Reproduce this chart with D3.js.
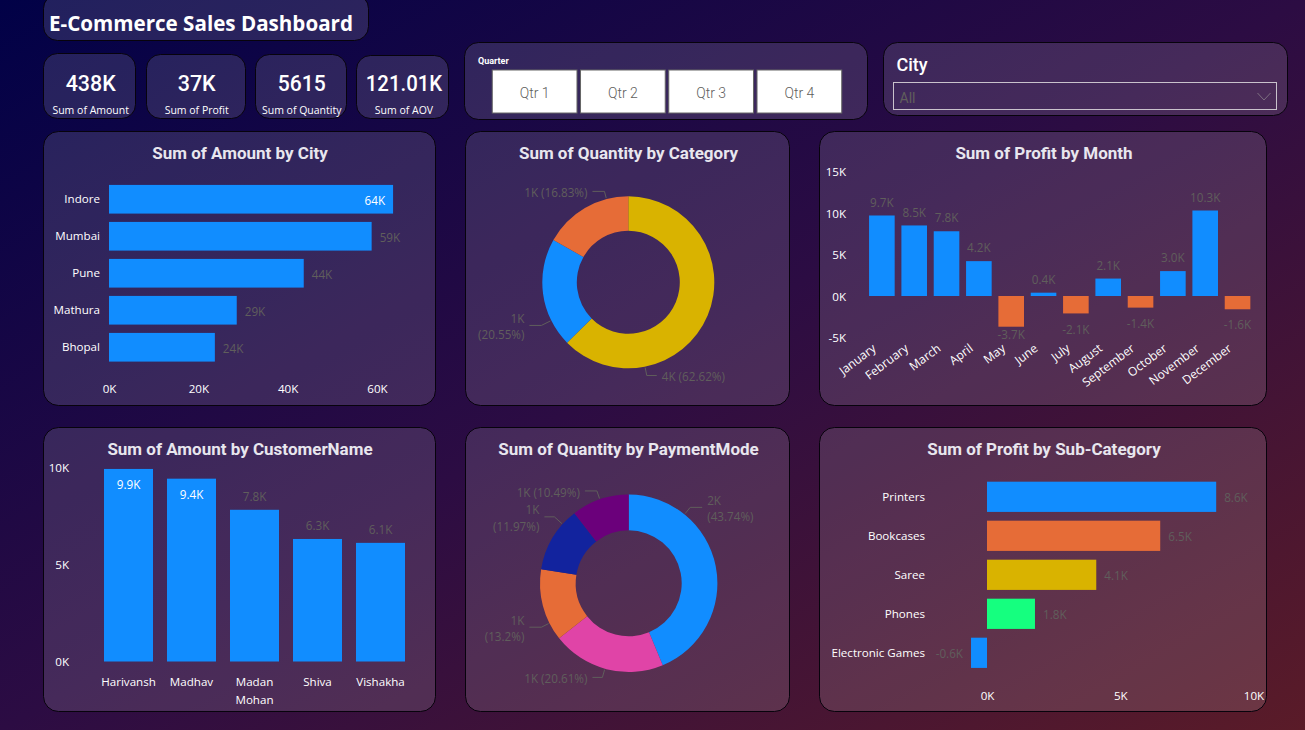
<!DOCTYPE html>
<html>
<head>
<meta charset="utf-8">
<title>E-Commerce Sales Dashboard</title>
<script src="https://cdn.jsdelivr.net/npm/d3@7"></script>
<style>
html, body { margin: 0; padding: 0; background: #1a0a40; overflow: hidden; }
svg { display: block; font-family: "Open Sans", sans-serif; }
.axis text { fill: #fff; font-size: 11.6px; font-family: "Open Sans", sans-serif; }
.axis path, .axis line { display: none; }
.title { fill: #e8e6ee; font-family: Roboto, sans-serif; font-weight: 700; font-size: 17px; text-anchor: middle; }
.label { fill: #605e5c; font-size: 11.7px; }
.din { font-family: Roboto, sans-serif; }
</style>
</head>
<body>
<div id="chart-area"></div>
<script>
// KPI cards
var kpiValues = ["438K", "37K", "5615", "121.01K"];
var kpiLabels = ["Sum of Amount", "Sum of Profit", "Sum of Quantity", "Sum of AOV"];
var quarters = ["Qtr 1", "Qtr 2", "Qtr 3", "Qtr 4"];

// values in thousands
var cities = ["Indore", "Mumbai", "Pune", "Mathura", "Bhopal"];
var cityAmount = [63.6, 58.8, 43.6, 28.6, 23.7];
var cityTicks = [0, 20, 40, 60];

var categoryShare = [62.62, 20.55, 16.83];
var categoryQty = ["4K", "1K", "1K"];

var months = ["January", "February", "March", "April", "May", "June", "July", "August", "September", "October", "November", "December"];
var monthProfit = [9.7, 8.5, 7.8, 4.2, -3.7, 0.4, -2.1, 2.1, -1.4, 3.0, 10.3, -1.6];
var monthTicks = [-5, 0, 5, 10, 15];

var customers = ["Harivansh", "Madhav", "Madan Mohan", "Shiva", "Vishakha"];
var customerAmount = [9.9, 9.4, 7.8, 6.3, 6.1];
var customerTicks = [0, 5, 10];

var paymentShare = [43.74, 20.61, 13.2, 11.97, 10.49];
var paymentQty = ["2K", "1K", "1K", "1K", "1K"];

var subCategories = ["Printers", "Bookcases", "Saree", "Phones", "Electronic Games"];
var subProfit = [8.6, 6.5, 4.1, 1.8, -0.6];
var subTicks = [0, 5, 10];

var BLUE = "#118DFF", ORANGE = "#E66C37", GOLD = "#D9B300", GREEN = "#15FF7F",
    PINK = "#E044A7", NAVY = "#12239E", PURPLE = "#6B007B";

var svg = d3.select("#chart-area")
    .append("svg")
        .attr("width", 1305)
        .attr("height", 730);

var defs = svg.append("defs");
var grad = defs.append("linearGradient")
    .attr("id", "bg")
    .attr("x1", 0).attr("y1", 0)
    .attr("x2", 1).attr("y2", 1);
grad.append("stop").attr("offset", "0").attr("stop-color", "#010147");
grad.append("stop").attr("offset", "0.5").attr("stop-color", "#2c0c43");
grad.append("stop").attr("offset", "1").attr("stop-color", "#5a1b28");

svg.append("rect")
    .attr("width", 1305)
    .attr("height", 730)
    .attr("fill", "url(#bg)");

function card(x0, y0, x1, y1, r) {
    svg.append("rect")
        .attr("x", x0 + 0.5)
        .attr("y", y0 + 0.5)
        .attr("width", x1 - x0)
        .attr("height", y1 - y0)
        .attr("rx", r || 15)
        .attr("fill", "rgba(255,255,255,0.125)")
        .attr("stroke", "#07030c")
        .attr("stroke-width", 1);
}

function title(text, x, y) {
    svg.append("text")
        .attr("class", "title")
        .attr("x", x)
        .attr("y", y)
        .attr("dy", "0.35em")
        .text(text);
}

function k(v) { return v + "K"; }

/* Header */
card(43, -6, 368, 40, 14);
svg.append("text")
    .attr("x", 49)
    .attr("y", 24)
    .attr("dy", "0.35em")
    .attr("fill", "#fff")
    .attr("font-weight", 700)
    .attr("font-size", "20.6px")
    .text("E-Commerce Sales Dashboard");

var kpiBoxes = [[43, 53, 135], [146, 54, 245], [255, 54, 346], [356, 55, 448]];
var kpiCx = [90.7, 196.7, 301.7, 404];
var kpiWidths = [50, 38, 48, 76.5];
kpiValues.forEach(function(v, i) {
    card(kpiBoxes[i][0], kpiBoxes[i][1], kpiBoxes[i][2], 118, 14);
    svg.append("text")
        .attr("class", "din")
        .attr("x", kpiCx[i])
        .attr("y", 83.5)
        .attr("dy", "0.35em")
        .attr("text-anchor", "middle")
        .attr("fill", "#fff")
        .attr("font-size", "22px")
        .attr("font-weight", 500)
        .attr("textLength", kpiWidths[i])
        .attr("lengthAdjust", "spacingAndGlyphs")
        .text(v);
    svg.append("text")
        .attr("x", kpiCx[i])
        .attr("y", 110.5)
        .attr("dy", "0.35em")
        .attr("text-anchor", "middle")
        .attr("fill", "#fff")
        .attr("font-size", "10.5px")
        .text(kpiLabels[i]);
});

/* Quarter slicer */
card(464, 42, 867, 119, 14);
svg.append("text")
    .attr("class", "din")
    .attr("x", 478)
    .attr("y", 60.5)
    .attr("dy", "0.35em")
    .attr("fill", "#fff")
    .attr("font-size", "9px")
    .attr("font-weight", 700)
    .text("Quarter");

var qx = d3.scaleBand().domain(quarters).range([490.5, 843.5]).paddingInner(0.04).paddingOuter(0.02);
var qtr = svg.selectAll(".qtr").data(quarters).enter().append("g").attr("class", "qtr");
qtr.append("rect")
    .attr("x", function(d) { return qx(d); })
    .attr("y", 70)
    .attr("width", qx.bandwidth())
    .attr("height", 43)
    .attr("fill", "#fff")
    .attr("stroke", "#666")
    .attr("stroke-width", 1);
qtr.append("text")
    .attr("class", "din")
    .attr("x", function(d) { return qx(d) + qx.bandwidth() / 2; })
    .attr("y", 93)
    .attr("dy", "0.35em")
    .attr("text-anchor", "middle")
    .attr("fill", "#605e5c")
    .attr("font-size", "14px")
    .attr("font-weight", 300)
    .text(function(d) { return d; });

/* City slicer */
card(883, 42, 1287, 115, 14);
svg.append("text")
    .attr("class", "din")
    .attr("x", 896.5)
    .attr("y", 65)
    .attr("dy", "0.35em")
    .attr("fill", "#fff")
    .attr("font-size", "18px")
    .attr("font-weight", 500)
    .text("City");
svg.append("rect")
    .attr("x", 893.5)
    .attr("y", 82.5)
    .attr("width", 383)
    .attr("height", 27)
    .attr("fill", "none")
    .attr("stroke", "#c9c2cc")
    .attr("stroke-width", 1);
svg.append("text")
    .attr("class", "din")
    .attr("x", 899.5)
    .attr("y", 98)
    .attr("dy", "0.35em")
    .attr("fill", "#605e5c")
    .attr("font-size", "14px")
    .text("All");
svg.append("path")
    .attr("d", "M1257.5,93 L1264,100 L1270.5,93")
    .attr("fill", "none")
    .attr("stroke", "#7d6f80")
    .attr("stroke-width", 1);

/* Horizontal bars */
function hBars(opts) {
    var x = d3.scaleLinear().domain(opts.xDomain).range(opts.xRange);
    var y = d3.scaleBand().domain(opts.names).range(opts.yRange).paddingInner(0.225).paddingOuter(0.1125);

    svg.append("g")
        .attr("class", "axis")
        .attr("transform", "translate(0," + opts.xAxisY + ")")
        .call(d3.axisBottom(x).tickValues(opts.ticks).tickSize(0).tickPadding(0).tickFormat(k))
        .selectAll("text").attr("dy", "0.35em");

    svg.append("g")
        .attr("class", "axis")
        .attr("transform", "translate(" + opts.yAxisX + ",0)")
        .call(d3.axisLeft(y).tickSize(0).tickPadding(0));

    opts.names.forEach(function(d, i) {
        var v = opts.values[i];
        var inside = opts.insideFrom !== undefined && v >= opts.insideFrom;
        var color = opts.colors[i];
        svg.append("rect")
            .attr("x", x(Math.min(0, v)))
            .attr("y", y(d))
            .attr("width", Math.abs(x(v) - x(0)))
            .attr("height", y.bandwidth())
            .attr("fill", color);
        svg.append("text")
            .attr("class", "label")
            .attr("x", inside || v < 0 ? x(v) - 8 : x(v) + 8)
            .attr("y", y(d) + y.bandwidth() / 2 + 1.5)
            .attr("dy", "0.35em")
            .attr("text-anchor", inside || v < 0 ? "end" : "start")
            .style("fill", inside ? "#fff" : null)
            .text(opts.fmt(v));
    });
}

/* Vertical bars */
function vBars(opts) {
    var x = d3.scaleBand().domain(opts.names).range(opts.xRange).paddingInner(opts.pad).paddingOuter(opts.pad / 2);
    var y = d3.scaleLinear().domain(opts.yDomain).range(opts.yRange);

    svg.append("g")
        .attr("class", "axis")
        .attr("transform", "translate(" + opts.yAxisX + ",0)")
        .call(d3.axisLeft(y).tickValues(opts.ticks).tickSize(0).tickPadding(0).tickFormat(k))
        .selectAll("text").attr("dy", "0.35em");

    var xAxis = svg.append("g")
        .attr("class", "axis")
        .attr("transform", "translate(0," + opts.xAxisY + ")")
        .call(d3.axisBottom(x).tickSize(0).tickPadding(0));
    opts.styleTicks(xAxis.selectAll("text"));

    opts.names.forEach(function(d, i) {
        var v = opts.values[i];
        var inside = opts.insideFrom !== undefined && v >= opts.insideFrom;
        svg.append("rect")
            .attr("x", x(d))
            .attr("y", y(Math.max(0, v)))
            .attr("width", x.bandwidth())
            .attr("height", Math.abs(y(v) - y(0)))
            .attr("fill", v < 0 ? ORANGE : BLUE);
        var ly;
        if (inside) ly = y(v) + 16;
        else if (v < 0) ly = Math.min(y(v) + 16, y.range()[0] - 3);
        else ly = y(v) - 13;
        svg.append("text")
            .attr("class", "label")
            .attr("x", x(d) + x.bandwidth() / 2)
            .attr("y", ly)
            .attr("dy", "0.35em")
            .attr("text-anchor", "middle")
            .style("fill", inside ? "#fff" : null)
            .text(v.toFixed(1) + "K");
    });
}

/* Donuts */
function donut(opts) {
    var pie = d3.pie().sort(null).value(function(d) { return d; });
    var arc = d3.arc().innerRadius(opts.inner).outerRadius(opts.outer);
    var g = svg.append("g").attr("transform", "translate(" + opts.cx + "," + opts.cy + ")");

    g.selectAll("path.slice")
        .data(pie(opts.share))
        .enter().append("path")
            .attr("class", "slice")
            .attr("d", arc)
            .attr("fill", function(d, i) { return opts.colors[i]; });

    // Leader lines: the label spot on the ring is not the slice midpoint
    opts.leaders.forEach(function(l, i) {
        var a = l.angle * Math.PI / 180;
        var sx = Math.sin(a), sy = -Math.cos(a);
        var r0 = opts.outer + 1, r1 = opts.outer + l.out;
        var ex = sx * r1, ey = sy * r1;
        var dir = sx >= 0 ? 1 : -1;
        var hx = ex + dir * l.run;
        g.append("path")
            .attr("d", "M" + sx * r0 + "," + sy * r0 + " L" + ex + "," + ey + " L" + hx + "," + ey)
            .attr("fill", "none")
            .attr("stroke", "#605e5c")
            .attr("stroke-width", 1);
        var txt = g.append("text")
            .attr("class", "label")
            .attr("text-anchor", dir > 0 ? "start" : "end")
            .attr("x", hx + dir * 5)
            .attr("y", ey + 1.5);
        var qty = opts.qty[i], pct = "(" + opts.share[i] + "%)";
        if (l.wrap) {
            txt.append("tspan").attr("x", hx + dir * 5).attr("dy", "-0.35em").text(qty);
            txt.append("tspan").attr("x", hx + dir * 5).attr("dy", "1.4em").text(pct);
        } else {
            txt.attr("dy", "0.35em").text(qty + " " + pct);
        }
    });
}

/* Panels */
card(43, 131, 435, 405);
card(465, 131, 789, 405);
card(819, 131, 1266, 405);
card(43, 427, 435, 711);
card(465, 427, 789, 711);
card(819, 427, 1266, 711);

title("Sum of Amount by City", 240, 153);
title("Sum of Quantity by Category", 628.5, 153);
title("Sum of Profit by Month", 1044, 153);
title("Sum of Amount by CustomerName", 240, 449);
title("Sum of Quantity by PaymentMode", 628.5, 449);
title("Sum of Profit by Sub-Category", 1044, 449);

hBars({
    names: cities, values: cityAmount, colors: cities.map(function() { return BLUE; }),
    xDomain: [0, 60], xRange: [109, 377], yRange: [180.75, 365.75],
    ticks: cityTicks, xAxisY: 389, yAxisX: 100, insideFrom: 60,
    fmt: function(v) { return v.toFixed(0) + "K"; }
});

hBars({
    names: subCategories, values: subProfit, colors: [BLUE, ORANGE, GOLD, GREEN, BLUE],
    xDomain: [0, 10], xRange: [987, 1253.5], yRange: [477.3, 672.3],
    ticks: subTicks, xAxisY: 695.5, yAxisX: 925,
    fmt: function(v) { return v.toFixed(1) + "K"; }
});

vBars({
    names: months, values: monthProfit, pad: 0.208,
    xRange: [865.7, 1253.7], yDomain: [-5, 15], yRange: [337.5, 171.5],
    ticks: monthTicks, yAxisX: 846, xAxisY: 341,
    styleTicks: function(sel) {
        sel.attr("text-anchor", "end")
            .attr("x", 0)
            .attr("y", 0)
            .attr("dy", 0)
            .style("font-size", "12px")
            .attr("transform", "translate(-5,9) rotate(-37)");
    }
});

vBars({
    names: customers, values: customerAmount, pad: 0.222,
    xRange: [97, 412], yDomain: [0, 10], yRange: [661.5, 467],
    ticks: customerTicks, yAxisX: 69, xAxisY: 682, insideFrom: 9,
    styleTicks: function(sel) {
        sel.each(function(d) {
            var t = d3.select(this).attr("y", 0).attr("dy", "0.35em").text(null);
            d.split(" ").forEach(function(w, i) {
                t.append("tspan").attr("x", 0).attr("dy", i ? "18px" : "0.35em").text(w);
            });
        });
    }
});

donut({
    cx: 628.3, cy: 282.3, outer: 86, inner: 51.5,
    share: categoryShare, qty: categoryQty, colors: [GOLD, BLUE, ORANGE],
    leaders: [
        { angle: 168.8, out: 9, run: 10 },
        { angle: 243.6, out: 11, run: 12, wrap: true },
        { angle: 345.3, out: 8, run: 12 }
    ]
});

donut({
    cx: 628.7, cy: 583.3, outer: 88.7, inner: 53,
    share: paymentShare, qty: paymentQty, colors: [BLUE, PINK, ORANGE, NAVY, PURPLE],
    leaders: [
        { angle: 39, out: 9, run: 12, wrap: true },
        { angle: 195.6, out: 9, run: 10 },
        { angle: 243.3, out: 9, run: 12, wrap: true },
        { angle: 311.8, out: 11, run: 10, wrap: true },
        { angle: 341, out: 9, run: 12 }
    ]
});
</script>
</body>
</html>
